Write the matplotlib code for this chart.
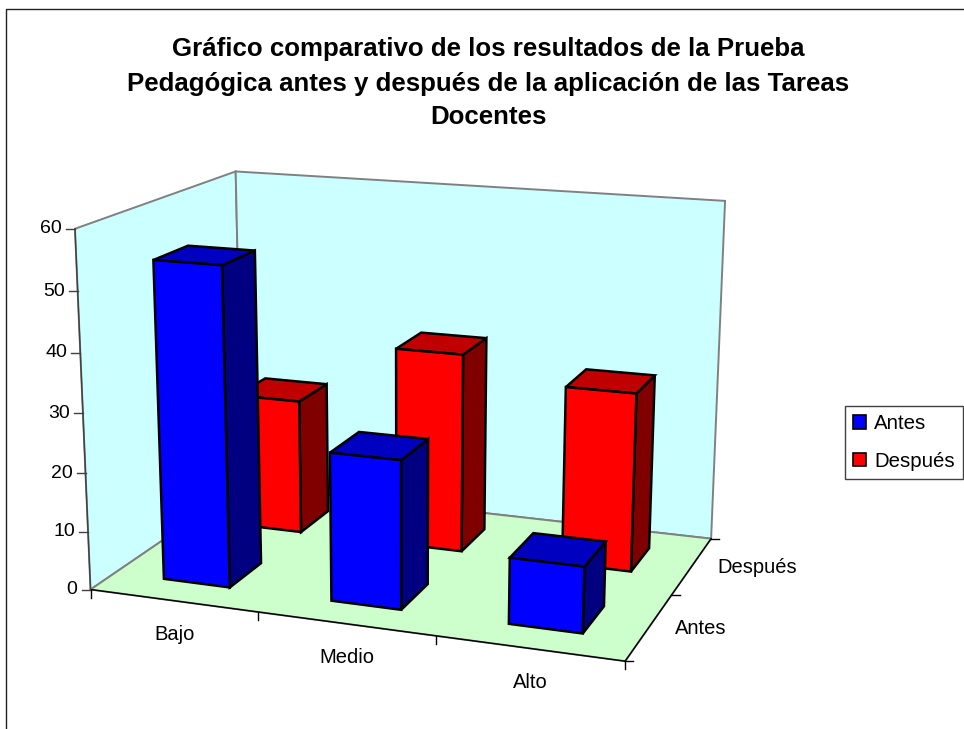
import numpy as np
import matplotlib
matplotlib.use("Agg")
import matplotlib.pyplot as plt
from matplotlib.patches import Patch, Polygon

categories = ['Bajo', 'Medio', 'Alto']
series_names = ['Antes', 'Después']
antes = [54, 25, 11]
despues = [24, 35, 31]
z_ticks = [0, 10, 20, 30, 40, 50, 60]
title_lines = ['Gráfico comparativo de los resultados de la Prueba',
               'Pedagógica antes y después de la aplicación de las Tareas',
               'Docentes']

FONT = 'Liberation Sans'
BAR_W = 0.40   # share of one category
BAR_D = 0.42   # share of one series row
COLORS = [('#0000FF', '#0000C0', '#000080'),
          ('#FF0000', '#C00000', '#800000')]

# --- camera: (category, series, value) -> pixel, solved from the box corners ---
world = np.array([(0, 0, 0), (0, 0, 60), (0, 2, 60), (0, 2, 0),
                  (3, 2, 60), (3, 2, 0), (3, 0, 0)], float)
pixel = np.array([(90, 589), (75, 229.5), (235.7, 171), (243, 486),
                  (725, 200.7), (710.7, 539), (625.7, 661)], float)
A, b = [], []
for (X, Y, Z), (u, v) in zip(world, pixel):
    A.append([X, Y, Z, 1, 0, 0, 0, 0, -u*X, -u*Y, -u*Z]); b.append(u)
    A.append([0, 0, 0, 0, X, Y, Z, 1, -v*X, -v*Y, -v*Z]); b.append(v)
P = np.append(np.linalg.lstsq(np.array(A), np.array(b), rcond=None)[0], 1).reshape(3, 4)


def proj(x, y, z):
    h = P @ np.array([x, y, z, 1.0])
    return h[0] / h[2], h[1] / h[2]


def face(ax, pts, color, edge, lw, zorder=1):
    ax.add_patch(Polygon([proj(*p) for p in pts], closed=True, facecolor=color,
                         edgecolor=edge, lw=lw, joinstyle='miter', zorder=zorder))


fig = plt.figure(figsize=(9.64, 7.29), dpi=100)
ax = fig.add_axes([0, 0, 1, 1])
ax.set_xlim(0, 964); ax.set_ylim(729, 0)
ax.axis('off')

# chart frame, open on the right and at the bottom
ax.plot([6.2, 6.2, 964], [729, 9.3, 9.3], color='#202020', lw=1.0, zorder=0)

# walls and floor
nx, ny, zmax = len(categories), len(series_names), z_ticks[-1]
face(ax, [(0, 0, 0), (0, ny, 0), (0, ny, zmax), (0, 0, zmax)], '#CCFFFF', '#808080', 1.4)
face(ax, [(0, ny, 0), (nx, ny, 0), (nx, ny, zmax), (0, ny, zmax)], '#CCFFFF', '#808080', 1.4)
face(ax, [(0, 0, 0), (nx, 0, 0), (nx, ny, 0), (0, ny, 0)], '#CCFFCC', '#808080', 1.4)

# front edges of the floor and the value axis
for a, b_ in [((0, 0, 0), (nx, 0, 0)), ((nx, 0, 0), (nx, ny, 0)), ((0, 0, 0), (0, 0, zmax))]:
    xs, ys = zip(proj(*a), proj(*b_))
    ax.plot(xs, ys, color='black' if a[2] == b_[2] else '#404040', lw=1.0, zorder=2)

# ticks
for v in z_ticks:
    px, py = proj(0, 0, v)
    ax.plot([px - 9, px], [py, py], color='#404040', lw=1.0, zorder=2)
    ax.text(px - 13, py, str(v), ha='right', va='center', family=FONT, fontsize=14)
for i in range(nx + 1):
    px, py = proj(i, 0, 0)
    ax.plot([px, px], [py, py + 8], color='black', lw=1.0, zorder=2)
for j in range(ny + 1):
    px, py = proj(nx, j, 0)
    ax.plot([px, px + 8], [py, py], color='black', lw=1.0, zorder=2)
for i, c in enumerate(categories):
    px, py = proj(i + 0.5, 0, 0)
    ax.text(px + 1, py + 34, c, ha='center', va='center', family=FONT, fontsize=14.5)
for j, s in enumerate(series_names):
    px, py = proj(nx, j + 0.5, 0)
    ax.text(px + 25.5, py + 1.5, s, ha='left', va='center', family=FONT, fontsize=14.5)

# bars, back row first so the front row covers it
values = [antes, despues]
for j in reversed(range(ny)):
    c_front, c_top, c_side = COLORS[j]
    y0 = j + (1 - BAR_D) / 2
    y1 = y0 + BAR_D
    for i in reversed(range(nx)):
        v = values[j][i]
        x0 = i + (1 - BAR_W) / 2
        x1 = x0 + BAR_W
        face(ax, [(x1, y0, 0), (x1, y1, 0), (x1, y1, v), (x1, y0, v)], c_side, 'black', 1.8, 3)
        face(ax, [(x0, y0, v), (x1, y0, v), (x1, y1, v), (x0, y1, v)], c_top, 'black', 1.8, 3)
        face(ax, [(x0, y0, 0), (x1, y0, 0), (x1, y0, v), (x0, y0, v)], c_front, 'black', 1.8, 3)

# title, one centred line at a time
for line, y in zip(title_lines, [56, 91, 124]):
    ax.text(488, y, line, ha='center', va='baseline', family=FONT,
            fontsize=18.6, fontweight='bold')

handles = [Patch(facecolor=COLORS[k][0], edgecolor='black', lw=1.2, label=n)
           for k, n in enumerate(series_names)]
leg = ax.legend(handles=handles, loc='center left', bbox_to_anchor=(845 / 964, 1 - 442.5 / 729),
                borderaxespad=0, fancybox=False, framealpha=1, edgecolor='#404040',
                prop={'family': FONT, 'size': 14.7}, handlelength=0.64, handleheight=0.64,
                handletextpad=0.4, labelspacing=0.9, borderpad=0.4)
leg.get_frame().set_linewidth(1.0)

fig.savefig('out.png', dpi=100)
